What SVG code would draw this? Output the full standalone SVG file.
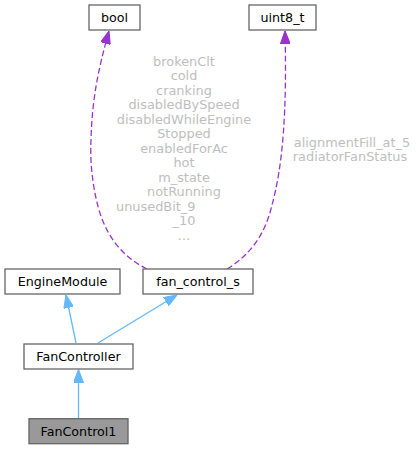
<svg xmlns="http://www.w3.org/2000/svg" width="419" height="449" viewBox="0 0 419 449">
<style>
.box{fill:#ffffff;stroke:#666666;stroke-width:1.3}
.focus{fill:#999999;stroke:#666666;stroke-width:1.3}
.nt{font-family:"DejaVu Sans",sans-serif;font-size:12.7px;fill:#000000;text-anchor:middle}
.lbl{font-family:"DejaVu Sans",sans-serif;font-size:12.9px;fill:#bebebe;text-anchor:middle}
.inh{fill:none;stroke:#63b8ff;stroke-width:1.3;marker-end:url(#ab)}
.use{fill:none;stroke:#9a32cd;stroke-width:1.3;stroke-dasharray:6,3;marker-end:url(#ap)}
</style>
<defs>
<marker id="ab" viewBox="0 0 13 10" refX="13" refY="5" markerWidth="13" markerHeight="10" markerUnits="userSpaceOnUse" orient="auto"><path d="M0,0 L13,5 L0,10 z" fill="#63b8ff" stroke="#63b8ff"/></marker>
<marker id="ap" viewBox="0 0 13 10" refX="13" refY="5" markerWidth="13" markerHeight="10" markerUnits="userSpaceOnUse" orient="auto"><path d="M0,0 L13,5 L0,10 z" fill="#9a32cd" stroke="#9a32cd"/></marker>
</defs>
<rect width="419" height="449" fill="#ffffff"/>
<g id="connectors">
<path class="use" d="M147,269 C125,258 108,240 99,210 C92,185 90,160 91,140 C92,100 98,70 109,31"/>
<path class="use" d="M227,269 C250,255 265,235 272,205 C283,165 287,110 285,31"/>
<path class="inh" d="M76,343 L66,295"/>
<path class="inh" d="M98,343 L177,295"/>
<path class="inh" d="M78.5,418 L78.5,369.5"/>
<g id="label-bool">
<text class="lbl" x="184" y="65.5">brokenClt</text>
<text class="lbl" x="184" y="80">cold</text>
<text class="lbl" x="184" y="94.5">cranking</text>
<text class="lbl" x="184" y="109">disabledBySpeed</text>
<text class="lbl" x="184" y="123.5">disabledWhileEngine</text>
<text class="lbl" x="184" y="138">Stopped</text>
<text class="lbl" x="184" y="152.5">enabledForAc</text>
<text class="lbl" x="184" y="167">hot</text>
<text class="lbl" x="184" y="181.5">m_state</text>
<text class="lbl" x="184" y="196">notRunning</text>
<text class="lbl" x="116" y="210.5" style="text-anchor:start">unusedBit_9</text>
<text class="lbl" x="184" y="225">_10</text>
<text class="lbl" x="184" y="239.5">...</text>
</g>
<g id="label-uint8">
<text class="lbl" x="352" y="146.5">alignmentFill_at_5</text>
<text class="lbl" x="350" y="161">radiatorFanStatus</text>
</g>
</g>
<g id="bool"><rect class="box" x="89" y="5" width="51" height="25"/><text class="nt" x="114.5" y="21.8">bool</text></g>
<g id="uint8_t"><rect class="box" x="249" y="5" width="67" height="25"/><text class="nt" x="282.5" y="21.8">uint8_t</text></g>
<g id="EngineModule"><rect class="box" x="5" y="269" width="115" height="25"/><text class="nt" x="62.5" y="285.8">EngineModule</text></g>
<g id="fan_control_s"><rect class="box" x="143" y="269" width="110" height="25"/><text class="nt" x="198" y="285.8">fan_control_s</text></g>
<g id="FanController"><rect class="box" x="24" y="344" width="109" height="25"/><text class="nt" x="78.5" y="360.8">FanController</text></g>
<g id="FanControl1"><rect class="focus" x="29" y="418.7" width="99" height="25"/><text class="nt" x="78.5" y="435.5">FanControl1</text></g>
</svg>
